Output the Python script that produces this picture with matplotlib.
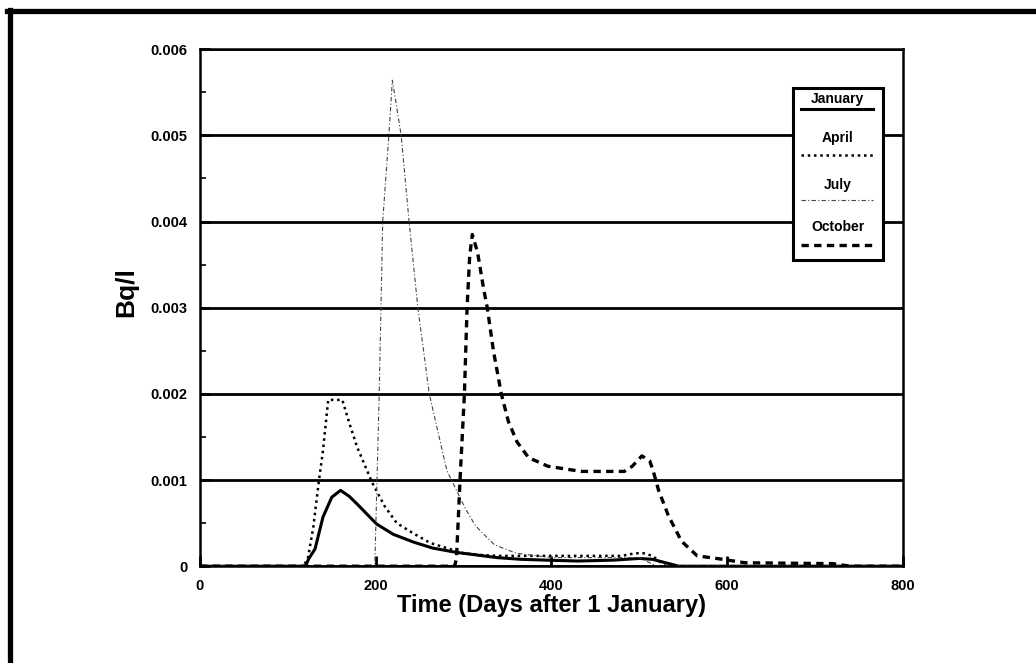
import matplotlib
matplotlib.use("Agg")
import matplotlib.pyplot as plt
from matplotlib.lines import Line2D
from matplotlib.patches import Rectangle

plt.rcParams["font.family"] = ["Liberation Sans", "DejaVu Sans"]

# activity concentration (Bq/l) against days after 1 January, per release month
jan_days = [0, 120, 124, 131, 140, 150, 160, 170, 180, 201, 220, 243, 265, 292,
            315, 338, 365, 395, 430, 470, 500, 515, 530, 545, 800]
jan_vals = [0, 0, 0.00009, 0.0002, 0.00057, 0.0008, 0.00088, 0.00081, 0.00071,
            0.00049, 0.00037, 0.00028, 0.00021, 0.00016, 0.00013, 0.0001, 0.00008,
            0.00007, 0.00006, 0.00007, 0.00009, 0.00008, 0.00004, 0, 0]

apr_days = [0, 118, 123, 129, 135, 140, 146, 162, 170, 179, 196, 210, 224, 243,
            262, 281, 300, 320, 340, 400, 480, 495, 505, 515, 530, 800]
apr_vals = [0, 0, 0.0001, 0.00045, 0.00096, 0.00134, 0.00193, 0.00193, 0.00166,
            0.00138, 0.00097, 0.0007, 0.0005, 0.00038, 0.00027, 0.00021, 0.00015,
            0.00013, 0.00012, 0.00012, 0.00012, 0.00015, 0.00015, 0.00012, 0, 0]

jul_days = [0, 199, 201, 204, 206, 208, 215, 219, 229, 238, 248, 261, 281, 302,
            313, 320, 335, 360, 400, 500, 520, 800]
jul_vals = [0, 0, 0.0008, 0.002, 0.003, 0.004, 0.005, 0.00564, 0.005, 0.004,
            0.003, 0.002, 0.00111, 0.00067, 0.00048, 0.0004, 0.00025, 0.00015,
            0.0001, 0.0001, 0, 0]

oct_days = [0, 290, 292, 296, 301, 304, 307, 310, 316, 323, 327, 334, 343, 351,
            361, 374, 396, 434, 483, 492, 503, 512, 516, 522, 533, 548, 566, 595,
            620, 720, 740, 800]
oct_vals = [0, 0, 0.0001, 0.001, 0.002, 0.003, 0.0036, 0.00385, 0.00364, 0.00321,
            0.003, 0.0025, 0.002, 0.00168, 0.00144, 0.00126, 0.00116, 0.0011,
            0.0011, 0.00116, 0.00128, 0.00122, 0.0011, 0.00088, 0.00059, 0.00029,
            0.00012, 0.00008, 0.00004, 0.00003, 0, 0]

series_names = ["January", "April", "July", "October"]
xticks = [0, 200, 400, 600, 800]
yticks = [0, 0.001, 0.002, 0.003, 0.004, 0.005, 0.006]
ytick_labels = ["0", "0.001", "0.002", "0.003", "0.004", "0.005", "0.006"]

styles = {
    "January": dict(color="black", lw=2.2, ls="-"),
    "April": dict(color="black", lw=1.8, ls=(0, (1, 1.5))),
    "July": dict(color="#444444", lw=0.8, ls=(0, (4, 2, 1, 2))),
    "October": dict(color="black", lw=2.4, ls=(0, (2.2, 1.6))),
}

fig = plt.figure(figsize=(10.36, 6.63), dpi=100)
ax = fig.add_axes([0.193, 0.146, 0.6785, 0.7798])

for name, days, vals in zip(series_names,
                            [jan_days, apr_days, jul_days, oct_days],
                            [jan_vals, apr_vals, jul_vals, oct_vals]):
    ax.plot(days, vals, **styles[name], zorder=3)

ax.set_xlim(0, 800)
ax.set_ylim(0, 0.006)
ax.set_xticks(xticks)
ax.set_xticklabels([str(t) for t in xticks])
ax.set_yticks(yticks)
ax.set_yticklabels(ytick_labels)
ax.set_yticks([0.0005 + 0.001 * i for i in range(6)], minor=True)

ax.yaxis.grid(True, color="black", lw=2.0)
ax.set_axisbelow(True)
for sp in ax.spines.values():
    sp.set_linewidth(1.8)

ax.tick_params(axis="both", which="major", direction="in", length=7, width=2,
               labelsize=10.5, pad=9)
ax.tick_params(axis="y", which="minor", direction="in", length=4, width=1.2)
for lab in ax.get_xticklabels() + ax.get_yticklabels():
    lab.set_fontweight("bold")

ax.set_xlabel("Time (Days after 1 January)", fontsize=17, fontweight="bold",
              labelpad=1)
ax.set_ylabel("Bq/l", fontsize=19, fontweight="bold")
ax.yaxis.set_label_coords(-0.088, 0.53)

# legend box: label on top, line sample underneath
ax.add_patch(Rectangle((0.843, 0.592), 0.129, 0.333, transform=ax.transAxes,
                       facecolor="white", edgecolor="black", lw=2.2, zorder=5))
label_y = [0.903, 0.828, 0.737, 0.656]
line_y = [0.884, 0.795, 0.708, 0.621]
for name, ty, ly in zip(series_names, label_y, line_y):
    ax.text(0.907, ty, name, transform=ax.transAxes, ha="center", va="center",
            fontsize=10, fontweight="bold", zorder=6)
    ax.add_line(Line2D([0.855, 0.958], [ly, ly], transform=ax.transAxes,
                       zorder=6, **styles[name]))

# outer frame
fig.add_artist(Line2D([0.007, 1.0], [0.983, 0.983], color="black", lw=3.8))
fig.add_artist(Line2D([0.0097, 0.0097], [0.0, 0.985], color="black", lw=3.8))

fig.savefig("out.png", dpi=100)
plt.close(fig)
